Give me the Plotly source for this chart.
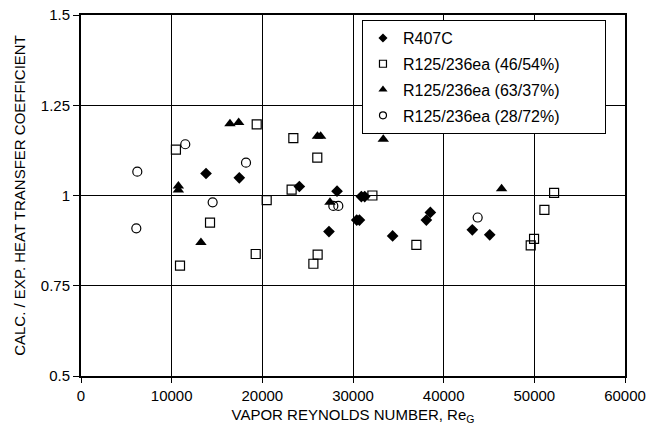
import plotly.graph_objects as go

# R407C (diamonds)
r407c_x = [13790, 17460, 24080, 28240, 27350, 30920, 31290, 30410, 30710, 34370, 38530, 38090, 43160, 45080]
r407c_y = [1.061, 1.049, 1.025, 1.012, 0.900, 0.997, 0.997, 0.932, 0.932, 0.888, 0.953, 0.932, 0.905, 0.891]

# R125/236ea (46/54%) (open squares)
r4654_x = [10470, 19380, 10920, 14230, 19270, 20480, 23420, 26060, 23230, 26100, 25630, 32140, 36990, 52180, 51110, 49970, 49600]
r4654_y = [1.127, 1.197, 0.806, 0.925, 0.838, 0.987, 1.159, 1.105, 1.016, 0.836, 0.811, 1.000, 0.863, 1.007, 0.960, 0.880, 0.862]

# R125/236ea (63/37%) (filled triangles)
r6337_x = [16430, 17390, 10740, 10740, 13230, 26080, 26430, 33340, 27460, 46390]
r6337_y = [1.199, 1.202, 1.026, 1.015, 0.870, 1.164, 1.164, 1.156, 0.981, 1.019]

# R125/236ea (28/72%) (open circles)
r2872_x = [6210, 6100, 11500, 18200, 14520, 27830, 28380, 43750]
r2872_y = [1.066, 0.909, 1.142, 1.091, 0.981, 0.971, 0.971, 0.939]

series_names = ["R407C", "R125/236ea (46/54%)", "R125/236ea (63/37%)", "R125/236ea (28/72%)"]

x_ticks = [0, 10000, 20000, 30000, 40000, 50000, 60000]
y_ticks = [0.5, 0.75, 1.0, 1.25, 1.5]
y_tick_labels = ["0.5", "0.75", "1", "1.25", "1.5"]

FONT = "Liberation Sans, Arial, sans-serif"

styles = [
    dict(symbol="diamond", color="black"),
    dict(symbol="square-open", color="black", line=dict(width=1.2)),
    dict(symbol="triangle-up", color="black"),
    dict(symbol="circle-open", color="black", line=dict(width=1.2)),
]
sizes = [9, 9, 10, 9]
legend_sizes = [7, 7, 8, 7]
data = [(r407c_x, r407c_y), (r4654_x, r4654_y), (r6337_x, r6337_y), (r2872_x, r2872_y)]

PAD = "\u00a0" * 9  # widen legend box to match reference

fig = go.Figure()
for i, (xs, ys) in enumerate(data):
    fig.add_trace(go.Scatter(x=xs, y=ys, mode="markers", name=series_names[i],
                             showlegend=False,
                             marker=dict(size=sizes[i], **styles[i])))
for i in range(4):
    fig.add_trace(go.Scatter(x=[None], y=[None], mode="markers", name=series_names[i] + PAD,
                             legendgroup="g%d" % i, showlegend=True,
                             marker=dict(size=legend_sizes[i], **styles[i])))

fig.update_layout(
    width=647, height=443,
    margin=dict(l=81, r=22, t=15, b=67),
    paper_bgcolor="white", plot_bgcolor="white",
    font=dict(family=FONT, size=15, color="black"),
    showlegend=True,
    legend=dict(x=0.5165, y=0.986, xanchor="left", yanchor="top",
                bgcolor="white", bordercolor="black", borderwidth=1,
                font=dict(family=FONT, size=16, color="black"),
                itemsizing="trace", tracegroupgap=2),
    xaxis=dict(range=[0, 60000], tickvals=x_ticks, tickformat="d",
               showgrid=True, gridcolor="black", gridwidth=1,
               showline=True, linecolor="black", linewidth=1.5, mirror=True,
               ticks="outside", ticklen=5, tickcolor="black",
               zeroline=False, automargin=False, ticklabeloverflow="allow",
               tickfont=dict(family=FONT, size=15),
               title=dict(text="VAPOR REYNOLDS NUMBER, Re<sub>G</sub>", standoff=7,
                          font=dict(family=FONT, size=15))),
    yaxis=dict(range=[0.5, 1.5], tickvals=y_ticks, ticktext=y_tick_labels,
               showgrid=True, gridcolor="black", gridwidth=1,
               showline=True, linecolor="black", linewidth=2, mirror=True,
               ticks="outside", ticklen=6, tickcolor="black",
               zeroline=False, automargin=False, ticklabeloverflow="allow",
               tickfont=dict(family=FONT, size=15),
               title=dict(text="CALC. / EXP. HEAT TRANSFER COEFFICIENT", standoff=12,
                          font=dict(family=FONT, size=15))),
)

fig.write_html("out.html", config={"displayModeBar": False},
               post_script="document.body.style.margin='0';document.body.style.overflow='hidden';")
